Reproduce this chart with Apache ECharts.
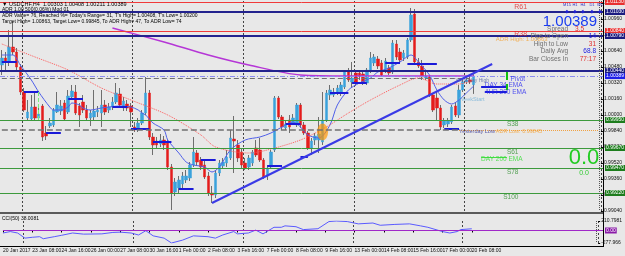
<!DOCTYPE html>
<html><head><meta charset="utf-8">
<script src="https://cdn.jsdelivr.net/npm/echarts@6/dist/echarts.min.js"></script>
<style>html,body{margin:0;padding:0;background:#e8e8e8}#c{width:625px;height:256px}</style>
</head><body><div id="c"></div>
<script>
// ---------- DATA ----------
const tickLabels = ['20 Jan 2017','23 Jan 08:00','24 Jan 16:00','26 Jan 00:00','27 Jan 08:00','30 Jan 16:00','1 Feb 00:00','2 Feb 08:00','3 Feb 16:00','7 Feb 00:00','8 Feb 08:00','9 Feb 16:00','13 Feb 00:00','14 Feb 08:00','15 Feb 16:00','17 Feb 00:00','20 Feb 08:00'];
const weekStarts = [6,36,66,96,126];
const slotCount = 163;

const opens = [1.0050,1.0057,1.0053,1.0068,1.0063,1.0048,1.0023,0.9997,0.9996,1.0008,
0.9997,1.0009,0.9982,0.9989,0.9990,1.0003,1.0004,1.0012,1.0003,1.0018,
1.0023,1.0009,1.0013,1.0005,0.9997,0.9998,1.0003,1.0002,1.0010,1.0005,
1.0008,1.0013,1.0021,1.0007,1.0011,1.0009,0.9988,0.9985,0.9992,1.0002,
1.0022,0.9978,0.9974,0.9971,0.9975,0.9972,0.9948,0.9923,0.9927,0.9931,
0.9935,0.9937,0.9950,0.9962,0.9955,0.9950,0.9939,0.9922,0.9920,0.9942,
0.9949,0.9952,0.9957,0.9976,0.9970,0.9963,0.9952,0.9948,0.9952,0.9967,
0.9965,0.9955,0.9939,0.9948,0.9965,1.0017,0.9998,0.9987,0.9995,0.9992,
0.9990,1.0010,0.9990,0.9982,0.9967,0.9975,0.9975,0.9973,0.9995,1.0020,
1.0020,1.0023,1.0022,1.0028,1.0043,1.0033,1.0042,1.0042,1.0041,1.0032,
1.0045,1.0052,1.0056,1.0052,1.0045,1.0047,1.0043,1.0071,1.0063,1.0057,
1.0058,1.0075,1.0101,1.0053,1.0049,1.0037,1.0038,1.0020,1.0017,1.0007,
0.9990,0.9991,0.9993,1.0009,1.0000,1.0025,1.0033,1.0035,1.00303];
const closes = [1.0057,1.0053,1.0068,1.0063,1.0048,1.0023,1.0005,1.0003,1.0008,0.9997,
1.0001,0.9978,0.9979,0.9992,1.0005,1.0010,1.0009,0.9996,1.0019,1.0024,
1.0002,1.0000,1.0005,0.9997,1.0002,1.0004,1.0005,1.0010,1.0003,1.0008,
1.0013,1.0022,1.0010,1.0014,1.0007,1.0003,0.9985,0.9992,1.0002,1.0022,
0.9978,0.9970,0.9970,0.9975,0.9970,0.9948,0.9922,0.9933,0.9935,0.9939,
0.9939,0.9950,0.9963,0.9953,0.9948,0.9938,0.9922,0.9920,0.9942,0.9952,
0.9953,0.9958,0.9977,0.9974,0.9957,0.9950,0.9947,0.9957,0.9963,0.9960,
0.9955,0.9938,0.9947,0.9963,1.0017,0.9998,0.9988,0.9991,0.9988,0.9997,
1.0010,0.9990,0.9982,0.9967,0.9974,0.9979,0.9981,0.9995,1.0022,1.0025,
1.0023,1.0027,1.0030,1.0043,1.0035,1.0037,1.0032,1.0039,1.0032,1.0045,
1.0057,1.0058,1.0049,1.0040,1.0054,1.0042,1.0072,1.0058,1.0055,1.0062,
1.0075,1.0100,1.0053,1.0049,1.0038,1.0039,1.0020,1.0005,1.0007,0.9988,
0.9994,0.9994,1.0008,1.0000,1.0025,1.0033,1.0035,1.0033,1.00389];
const lows = [1.0040,1.0045,1.0049,1.0060,1.0045,1.0020,1.0003,0.9995,0.9994,0.9994,
0.9995,0.9974,0.9975,0.9987,0.9988,1.0002,1.0000,0.9994,1.0001,1.0016,
1.0000,0.9988,1.0002,0.9995,0.9989,0.9995,0.9998,0.9988,1.0000,1.0002,
1.0005,1.0011,1.0007,1.0004,1.0004,0.9988,0.9983,0.9983,0.9990,1.0000,
0.9975,0.9960,0.9966,0.9968,0.9965,0.9945,0.9905,0.9919,0.9921,0.9927,
0.9932,0.9934,0.9948,0.9949,0.9945,0.9936,0.9919,0.9912,0.9917,0.9939,
0.9947,0.9948,0.9955,0.9942,0.9953,0.9947,0.9945,0.9945,0.9949,0.9958,
0.9953,0.9936,0.9935,0.9946,0.9963,0.9996,0.9985,0.9985,0.9982,0.9990,
0.9988,0.9987,0.9980,0.9965,0.9960,0.9970,0.9962,0.9970,0.9993,1.0015,
1.0018,1.0020,1.0019,1.0026,1.0033,1.0027,1.0029,1.0035,1.0030,1.0030,
1.0042,1.0049,1.0046,1.0038,1.0042,1.0040,1.0041,1.0055,1.0052,1.0054,
1.0056,1.0073,1.0051,1.0047,1.0035,1.0035,1.0018,1.0003,0.9995,0.9985,
0.9987,0.9988,0.9991,0.9998,0.9997,1.0023,1.0031,1.0031,1.00211];
const highs = [1.0065,1.0063,1.0085,1.0093,1.0067,1.0051,1.0027,1.0015,1.0020,1.0022,
1.0007,1.0011,0.9989,0.9997,1.0007,1.0023,1.0015,1.0015,1.0025,1.0030,
1.0030,1.0012,1.0020,1.0010,1.0005,1.0025,1.0009,1.0025,1.0015,1.0012,
1.0018,1.0032,1.0027,1.0018,1.0015,1.0012,0.9993,0.9997,1.0005,1.0038,
1.0025,0.9982,0.9978,0.9981,0.9979,0.9975,0.9951,0.9937,0.9939,0.9943,
0.9945,0.9953,0.9978,0.9965,0.9958,0.9955,0.9943,0.9929,0.9945,0.9955,
0.9957,0.9965,0.9985,0.9999,0.9975,0.9967,0.9957,0.9960,0.9965,0.9975,
0.9977,0.9957,0.9950,0.9965,1.0019,1.0019,1.0000,0.9995,1.0000,1.0001,
1.0012,1.0012,0.9993,0.9984,0.9977,0.9982,0.9998,1.0023,1.0025,1.0030,
1.0027,1.0030,1.0033,1.0045,1.0047,1.0053,1.0045,1.0045,1.0045,1.0047,
1.0063,1.0061,1.0059,1.0055,1.0057,1.0050,1.0075,1.0075,1.0067,1.0065,
1.0077,1.0107,1.0106,1.0057,1.0055,1.0043,1.0040,1.0022,1.0023,1.0010,
0.9997,0.9997,1.0010,1.0013,1.0030,1.0037,1.0039,1.0039,1.00408];

const maFast = [[0,1.0060],[3,1.0060],[5,1.0050],[8,1.0035],[10,1.0023],[13,1.0008],[14,1.0005],[16,1.0005],[18,1.0008],[19,1.0012],[21,1.0010],[22,1.0007],[24,1.0005],[27,1.0007],[29,1.0008],[32,1.0009],[35,1.0008],[37,1.0005],[38,1.0002],[39,1.0000],[41,0.9992],[44,0.9985],[45,0.9975],[48,0.9962],[50,0.9953],[52,0.9950],[55,0.9948],[57,0.9943],[59,0.9948],[62,0.9965],[66,0.9975],[70,0.9978],[73,0.9982],[76,0.9988],[79,0.9993],[81,0.9988],[83,0.9980],[86,0.9977],[89,0.9990],[91,1.0010],[94,1.0025],[97,1.0032],[100,1.0037],[102,1.0043],[105,1.0047],[108,1.0053],[111,1.0060],[113,1.0053],[116,1.0040],[118,1.0025],[120,1.0015],[122,1.0011],[124,1.0015],[126,1.0022],[128,1.0029]];
const maSlow = [[0,1.0071],[9,1.0058],[18,1.0045],[27,1.0027],[35,1.0015],[45,1.0000],[54,0.9980],[58,0.9968],[67,0.9962],[72,0.9965],[81,0.9975],[88,0.9988],[94,1.0002],[100,1.0015],[108,1.0030],[113,1.0037],[118,1.0031],[124,1.0031],[128,1.0035]];
const ema200 = [[30,1.0087],[44,1.0073],[56,1.0060],[67,1.0050],[81,1.0040],[94,1.0039],[108,1.0039],[128,1.0039]];
const trendLine = [[57,0.9912],[133,1.0051]];
const daySegments = [[0,4,1.0053],[6,10,1.0023],[12,16,0.9982],[18,22,1.0016],[30,34,1.0008],[35,40,0.9986],[41,46,0.9973],[48,52,0.9926],[54,58,0.9955],[72,76,0.9949],[77,81,0.9991],[81,83,0.9958],[89,94,1.0022],[95,99,1.0032],[104,108,1.0052],[110,118,1.0051],[120,124,0.9986]];
const levelNames = ['R61','WeekHigh','R38','DayHigh','Pivot','Bid','S38','S61','S78','S100'];
const levelPrices = [1.0113,1.0103,1.0084,1.0079,1.0044,1.00389,0.9995,0.9967,0.9947,0.9922];
const yHighPrice = 1.0037, yLowPrice = 0.9985;
const cci = [[0,-56],[2,-24],[4,-56],[6,-170],[8,-151],[10,-138],[11,-183],[14,-138],[16,-107],[19,-56],[22,-81],[27,-75],[30,-43],[32,-37],[35,-56],[37,-100],[39,-5],[41,-119],[44,-170],[46,-277.966],[49,-215],[52,-119],[56,-138],[58,-170],[60,-100],[63,-24],[64,-75],[67,-56],[69,8],[71,-75],[74,71],[76,71],[77,103],[80,84],[82,20],[86,39],[89,198],[91,210.7981],[94,198],[97,147],[101,166],[103,116],[107,135],[111,147],[114,103],[116,71],[120,-24],[122,-56],[124,-24],[125,20],[128,38.0081]];
const cciMin = -277.966, cciMax = 210.7981;

// ---------- BUILD ----------
const cats = Array.from({length: slotCount}, (_, i) => String(i));
const wickData = opens.map((o, i) => [o, closes[i], lows[i], highs[i]]);
const bodyData = opens.map((o, i) => [o, closes[i], Math.min(o, closes[i]), Math.max(o, closes[i])]);
const F = '"Liberation Sans", Arial, sans-serif';
const X_END = slotCount - 1;

const lvlStyle = {
  R61:{c:'#f03a3a',w:1,t:'solid',box:'#e83030'},
  WeekHigh:{c:'#23238e',w:2,t:'solid',box:'#1c1c80'},
  R38:{c:'#f03a3a',w:1,t:'solid',box:'#e83030'},
  DayHigh:{c:'#23238e',w:2,t:'solid',box:'#1c1c80'},
  Pivot:{c:'#23238e',w:2,t:'solid',box:'#1c1c80'},
  Bid:{c:'#8a8cf0',w:1,t:[5,2,1,2],box:'#2020e8'},
  S38:{c:'#3c9a3c',w:1,t:'solid',box:'#1d7d1d'},
  S61:{c:'#3c9a3c',w:1,t:'solid',box:'#1d7d1d'},
  S78:{c:'#3c9a3c',w:1,t:'solid',box:'#1d7d1d'},
  S100:{c:'#3c9a3c',w:1,t:'solid',box:'#1d7d1d'}
};
// horizontal price levels spanning the whole plot, with price box at the right end
const levelLines = levelNames.map((n, k) => [
  {coord: [0, levelPrices[k]], x: 0,
   lineStyle: {color: lvlStyle[n].c, width: lvlStyle[n].w, type: lvlStyle[n].t},
   label: {show: true, position: 'end', distance: 2, formatter: levelPrices[k].toFixed(5),
     backgroundColor: lvlStyle[n].box, color: '#fff', fontSize: 5, fontFamily: F, padding: [1, 1, 0, 1]}},
  {coord: [X_END, levelPrices[k]], x: 603}
]);
const seg = (a, b, p, color, width, type) => [
  {coord: [a, p], lineStyle: {color, width, type: type || 'solid'}},
  {coord: [b, p]}
];
const segLines = daySegments.map(s => seg(s[0], s[1], s[2], '#1a1ad8', 2));
const extraLines = [
  seg(0, 127, yHighPrice, '#707070', 1, [5, 3]),
  seg(0, 124, yLowPrice, '#707070', 1.5, [6, 3]),
  seg(124, X_END, yLowPrice, '#f0a040', 1, 'dotted'),
  seg(130, 137, 1.0028, '#1a1ad8', 2),
  seg(131, 137, 1.0023, '#1a1ad8', 2),
  seg(130, 137, 0.9958, '#44dd44', 1),
  [{coord: [137, 1.0043], lineStyle: {color: '#10c010', width: 2}}, {coord: [137, 1.0025]}],
  [{coord: [10, 1.0023], lineStyle: {color: '#77ee77', width: 1}}, {coord: [10, 0.9995]}],
  [{coord: [X_END, 1.0114], lineStyle: {color: '#555', width: 1, type: 'dotted'}}, {coord: [X_END, 0.9904]}]
];

const annotations = [
  {t:'R61', i:139, p:1.0108, c:'#e02828', s:7},
  {t:'R38', i:139, p:1.0081, c:'#e02828', s:7},
  {t:'ADR High: 1.00863', i:134, p:1.0076, c:'#f5a030', s:6},
  {t:'Pivot', i:138, p:1.0036, c:'#2a2af0', s:6.5},
  {t:'DAY 34 EMA', i:131, p:1.0030, c:'#2a2af0', s:6.5},
  {t:'4HR 200 EMA', i:131, p:1.0023, c:'#2a2af0', s:6.5},
  {t:'Yesterday High', i:123, p:1.0034, c:'#5a6aa0', s:5},
  {t:'WeekStart', i:124, p:1.0016, c:'#70b0d8', s:5.5},
  {t:'S38', i:137, p:0.9991, c:'#2f8f2f', s:6.5},
  {t:'Yesterday Low', i:124, p:0.9984, c:'#303090', s:5.5},
  {t:'ADR Low: 0.99845', i:134, p:0.9984, c:'#f5a030', s:5.5},
  {t:'S61', i:137, p:0.9963, c:'#2f8f2f', s:6.5},
  {t:'DAY 200 EMA', i:130, p:0.9956, c:'#33dd33', s:6.5},
  {t:'S78', i:137, p:0.9943, c:'#2f8f2f', s:6.5},
  {t:'S100', i:136, p:0.9918, c:'#2f8f2f', s:6.5}
];
const annoData = annotations.map(a => ({
  value: [a.i, a.p],
  label: {show: true, formatter: a.t, color: a.c, fontSize: a.s, fontFamily: F, position: 'right', distance: 0}
}));

const weekFn = (idx) => weekStarts.indexOf(idx) >= 0;
const labFn = (idx) => idx % 8 === 0 && idx / 8 < tickLabels.length;

const txt = (x, y, text, fill, size, align, weight) => ({
  type: 'text', x, y, silent: true, z: 100,
  style: {text, fill, font: (weight || 'normal') + ' ' + size + 'px ' + F, textAlign: align || 'left', textVerticalAlign: 'middle'}
});

const graphics = [
  {type: 'rect', shape: {x: 0, y: 212, width: 603, height: 2}, style: {fill: '#5a5a5a'}, z: 50, silent: true},
  {type: 'rect', shape: {x: 603, y: 0, width: 1, height: 246}, style: {fill: '#000'}, z: 50, silent: true},
  {type: 'rect', shape: {x: 0, y: 246, width: 604, height: 1}, style: {fill: '#000'}, z: 50, silent: true},
  txt(2, 4, '\u25BC USDCHF,H4  1.00303 1.00408 1.00211 1.00389', '#000', 5.5),
  txt(2, 10, 'ADR 1.00 500(0.06%) Mod 01', '#000', 5),
  txt(2, 16, "ADR Value= 76, Reached %= Today's Range= 31, T's High= 1.00408, T's Low= 1.00200", '#000', 5),
  txt(2, 22, 'Target High= 1.00863, Target Low= 0.99845, To ADR High= 47, To ADR Low= 74', '#000', 5),
  txt(2, 219, 'CCI(50) 38.0081', '#000', 5),
  txt(567, 5, 'M15', '#3030c0', 4, 'center'), txt(575, 5, 'H1', '#3030c0', 4, 'center'), txt(583, 5, 'H4', '#3030c0', 4, 'center'),
  txt(592, 5, 'D1', '#3030c0', 4, 'center'), txt(600, 5, 'W1', '#3030c0', 4, 'center'),
  txt(567, 12, '\u25C6', '#2020d0', 5, 'center'), txt(575, 12, '\u25C6', '#2020d0', 5, 'center'),
  txt(583, 12, '\u25C6', '#2020d0', 5, 'center'), txt(592, 12, '\u25C6', '#2020d0', 5, 'center'),
  txt(600, 12, '\u25C6', '#2020d0', 5, 'center'),
  txt(597, 21.5, '1.00389', '#1a3cf0', 15, 'right'),
  txt(568, 29.5, 'Spread', '#707070', 6.5, 'right'), txt(584, 29.5, '3.5', '#e03030', 6.5, 'right'),
  txt(568, 36.5, 'Pips to Open', '#707070', 6.5, 'right'), txt(596, 36.5, '14', '#2020e0', 6.5, 'right'),
  txt(568, 44, 'High to Low', '#707070', 6.5, 'right'), txt(596, 44, '31', '#e03030', 6.5, 'right'),
  txt(568, 51.5, 'Daily Avg', '#707070', 6.5, 'right'), txt(596, 51.5, '68.8', '#2020e0', 6.5, 'right'),
  txt(568, 59, 'Bar Closes In', '#707070', 6.5, 'right'), txt(596, 59, '77:17', '#e03030', 6.5, 'right'),
  txt(584, 158, '0.0', '#22cc22', 22, 'center'),
  txt(584, 173, '0.0', '#33cc33', 7, 'center')
];

const chart = echarts.init(document.getElementById('c'), null, {renderer: 'canvas'});
chart.setOption({
  animation: false,
  backgroundColor: '#e8e8e8',
  grid: [
    {left: 0, top: 1, width: 603, height: 210},
    {left: 0, top: 221, width: 603, height: 22}
  ],
  xAxis: [
    {type: 'category', gridIndex: 0, data: cats, boundaryGap: true,
     axisLine: {show: false}, axisTick: {show: false}, axisLabel: {show: false},
     splitLine: {show: true, interval: weekFn, lineStyle: {color: '#444', width: 1, type: [2, 2]}}},
    {type: 'category', gridIndex: 1, data: cats, boundaryGap: true,
     axisLine: {show: false},
     axisTick: {show: true, interval: labFn, alignWithLabel: true, length: 2, lineStyle: {color: '#000'}},
     axisLabel: {show: true, interval: labFn, formatter: (v, idx) => tickLabels[idx / 8] || '',
       align: 'left', fontSize: 5, color: '#111', fontFamily: F, margin: 5},
     splitLine: {show: true, interval: weekFn, lineStyle: {color: '#444', width: 1, type: [2, 2]}}}
  ],
  yAxis: [
    {type: 'value', gridIndex: 0, position: 'right', min: 0.9904, max: 1.0114, interval: 0.0016,
     axisLine: {show: false}, axisTick: {show: true, length: 2, lineStyle: {color: '#000'}},
     axisLabel: {fontSize: 5, color: '#111', fontFamily: F, margin: 3, showMaxLabel: false,
       formatter: v => v.toFixed(5)},
     splitLine: {show: false}},
    {type: 'value', gridIndex: 1, position: 'right', min: cciMin, max: cciMax,
     axisLine: {show: false},
     axisTick: {show: true, length: 2, customValues: [cciMin, cciMax], lineStyle: {color: '#000'}},
     axisLabel: {fontSize: 5, color: '#111', fontFamily: F, margin: 3, customValues: [cciMin, cciMax],
       formatter: v => (v > 0 ? cciMax.toFixed(4) : cciMin.toFixed(3))},
     splitLine: {show: false}}
  ],
  series: [
    {type: 'candlestick', name: 'wick', xAxisIndex: 0, yAxisIndex: 0, data: wickData, barWidth: 1,
     itemStyle: {color: '#6e6e6e', color0: '#6e6e6e', borderColor: '#6e6e6e', borderColor0: '#6e6e6e', borderWidth: 1},
     silent: true, z: 2},
    {type: 'candlestick', name: 'body', xAxisIndex: 0, yAxisIndex: 0, data: bodyData, barWidth: 3,
     itemStyle: {color: '#3aa2dc', color0: '#e41c1c', borderColor: '#3aa2dc', borderColor0: '#e41c1c', borderWidth: 0.5},
     silent: true, z: 3},
    {type: 'line', name: 'levels', xAxisIndex: 0, yAxisIndex: 0, data: [[0, levelPrices[5]], [X_END, levelPrices[5]]],
     showSymbol: false, lineStyle: {opacity: 0}, silent: true, z: 3,
     markLine: {silent: true, symbol: ['none', 'none'], animation: false, label: {show: false},
       data: levelLines.concat(segLines, extraLines)}},
    {type: 'line', name: 'maFast', xAxisIndex: 0, yAxisIndex: 0, data: maFast, showSymbol: false, smooth: 0.3,
     lineStyle: {color: '#5060e8', width: 1}, z: 4, silent: true},
    {type: 'line', name: 'maSlow', xAxisIndex: 0, yAxisIndex: 0, data: maSlow, showSymbol: false, smooth: 0.3,
     lineStyle: {color: '#ff5a5a', width: 1, type: 'dotted'}, z: 4, silent: true},
    {type: 'line', name: 'ema200', xAxisIndex: 0, yAxisIndex: 0, data: ema200, showSymbol: false, smooth: 0.3,
     lineStyle: {color: '#b536d6', width: 1.5}, z: 4, silent: true},
    {type: 'line', name: 'trend', xAxisIndex: 0, yAxisIndex: 0, data: trendLine, showSymbol: false,
     lineStyle: {color: '#3a3ae6', width: 2}, z: 5, silent: true},
    {type: 'scatter', name: 'blob', xAxisIndex: 0, yAxisIndex: 0, data: [[87, 0.9983]], symbol: 'circle',
     symbolSize: [11, 17], itemStyle: {color: 'rgba(255,150,0,0.85)'}, z: 4, silent: true},
    {type: 'scatter', name: 'labels', xAxisIndex: 0, yAxisIndex: 0, data: annoData, symbolSize: 0, z: 6, silent: true},
    {type: 'line', name: 'cci', xAxisIndex: 1, yAxisIndex: 1, data: cci, showSymbol: false,
     lineStyle: {color: '#5a5aff', width: 1}, silent: true,
     markLine: {silent: true, symbol: ['none', 'none'], animation: false,
       data: [
         [{coord: [0, 0], lineStyle: {color: '#a028c8', width: 1, type: 'solid'},
           label: {show: true, position: 'end', distance: 2, formatter: '0.00', backgroundColor: '#8a1aa8', color: '#fff', fontSize: 5, fontFamily: F, padding: [1, 1, 0, 1]}},
          {coord: [X_END, 0], x: 603}],
         [{coord: [X_END, cciMax], lineStyle: {color: '#555', width: 1, type: 'dotted'}, label: {show: false}}, {coord: [X_END, cciMin]}]
       ]}}
  ],
  graphic: graphics
});
</script></body></html>
